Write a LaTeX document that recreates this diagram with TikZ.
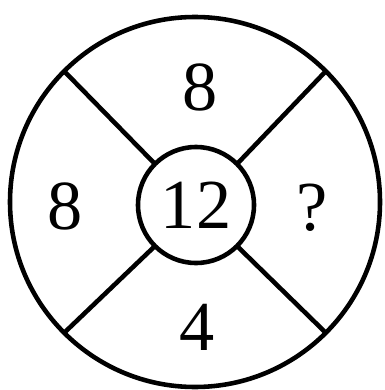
\documentclass[tikz,border=0pt]{standalone}
\usepackage{fontspec}
\setmainfont{Liberation Serif}
\usepackage{tikz}
\tikzset{
    ring/.style={circle, draw, line width=1.3pt, inner sep=0pt, outer sep=0pt},
    spoke/.style={draw, line width=1.3pt},
    num/.style={font=\fontsize{20}{20}\selectfont, inner sep=0pt},
}
\begin{document}
\begin{tikzpicture}
    \useasboundingbox (0,0) rectangle (3.84,-3.90);
    \node[ring, minimum size=3.70cm] (rim) at (1.95,-2.02) {};
    \node[ring, minimum size=1.16cm, num] (hub) at (1.96,-2.05) {12};
    \draw[spoke] (hub.135) -- (rim.135);
    \draw[spoke] (hub.45) -- (rim.45);
    \draw[spoke] (hub.-135) -- (rim.-135);
    \draw[spoke] (hub.-45) -- (rim.-45);
    \node[num] (top) at (2.00,-0.87) {8};
    \node[num] (left) at (0.65,-2.06) {8};
    \node[num] (right) at (3.12,-2.08) {?};
    \node[num] (bottom) at (1.97,-3.27) {4};
\end{tikzpicture}
\end{document}
